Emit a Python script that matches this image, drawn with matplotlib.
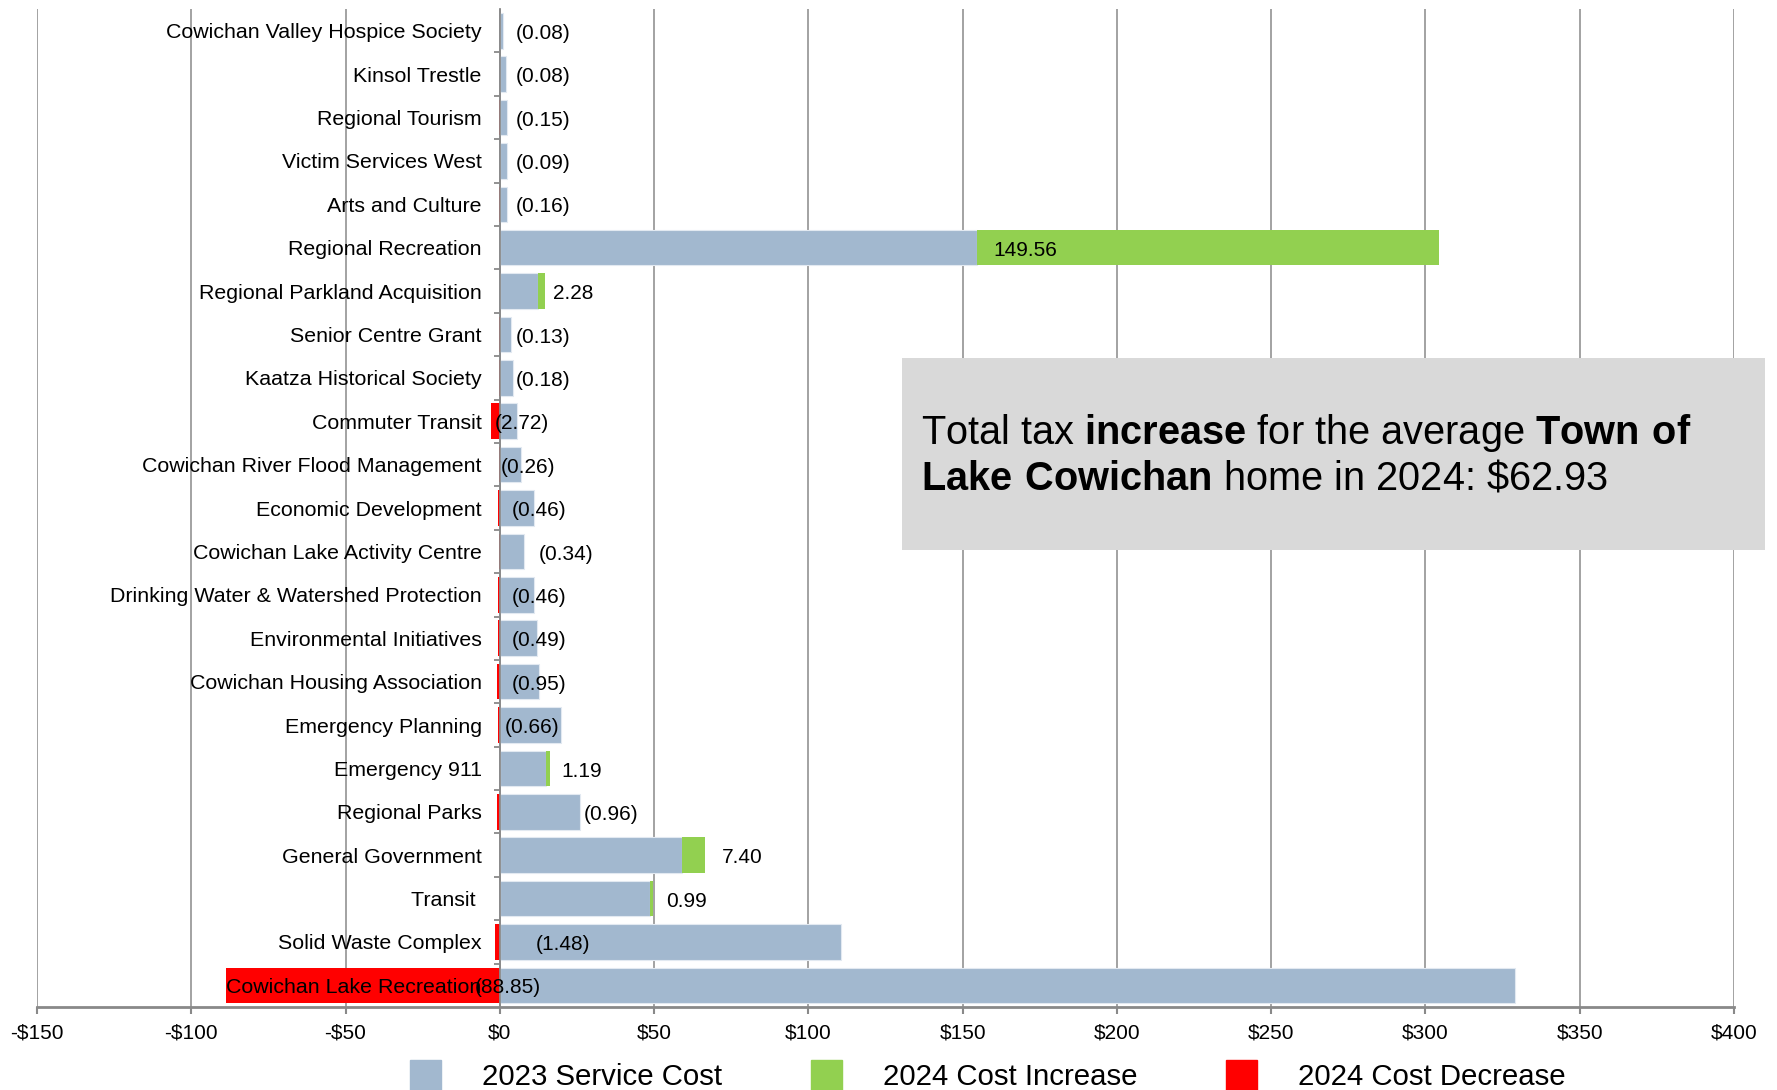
import matplotlib.pyplot as plt
from matplotlib.patches import Patch, Rectangle

plt.rcParams['font.family'] = ['Liberation Sans', 'DejaVu Sans']
plt.rcParams['mathtext.fontset'] = 'custom'
plt.rcParams['mathtext.rm'] = 'Liberation Sans'
plt.rcParams['mathtext.bf'] = 'Liberation Sans:bold'

# Services, top to bottom
services = [
    'Cowichan Valley Hospice Society', 'Kinsol Trestle', 'Regional Tourism',
    'Victim Services West', 'Arts and Culture', 'Regional Recreation',
    'Regional Parkland Acquisition', 'Senior Centre Grant',
    'Kaatza Historical Society', 'Commuter Transit',
    'Cowichan River Flood Management', 'Economic Development',
    'Cowichan Lake Activity Centre', 'Drinking Water & Watershed Protection',
    'Environmental Initiatives', 'Cowichan Housing Association',
    'Emergency Planning', 'Emergency 911', 'Regional Parks',
    'General Government', 'Transit ', 'Solid Waste Complex',
    'Cowichan Lake Recreation',
]
cost_2023 = [1.2, 1.9, 2.2, 2.2, 2.3, 154.8, 12.4, 3.5, 4.2, 5.5, 6.9, 11.1,
             8.0, 11.1, 11.9, 12.6, 20.0, 15.0, 25.9, 59.0, 48.8, 110.7, 329.0]
change_2024 = [-0.08, -0.08, -0.15, -0.09, -0.16, 149.56, 2.28, -0.13, -0.18,
               -2.72, -0.26, -0.46, -0.34, -0.46, -0.49, -0.95, -0.66, 1.19,
               -0.96, 7.40, 0.99, -1.48, -88.85]
# where each change label starts ($)
label_x = [5.1, 5.1, 5.1, 5.1, 5.1, 160, 17.4, 5.1, 5.1, -1.5, 0.4, 4, 12.7,
           4, 4, 4, 1.7, 19.8, 27.3, 72, 54, 11.6, -8]
x_ticks = [-150, -100, -50, 0, 50, 100, 150, 200, 250, 300, 350, 400]

blue = '#a2b8cf'
green = '#92d050'
red = '#ff0000'
grey = '#898989'

increase = [max(c, 0) for c in change_2024]
decrease = [min(c, 0) for c in change_2024]
labels = [f'{c:.2f}' if c > 0 else f'({-c:.2f})' for c in change_2024]
y = list(range(len(services)))

fig = plt.figure(figsize=(17.77, 10.90), dpi=100)
ax = fig.add_axes([0.0208, 0.0761, 0.955, 0.9156])

for xv in x_ticks:
    ax.axvline(xv, color=grey, lw=1.1, zorder=0)

ax.barh(y, cost_2023, height=0.82, color=blue, edgecolor='#e2e9f1',
        linewidth=0.8, zorder=1)
ax.barh(y, increase, left=cost_2023, height=0.82, color=green,
        edgecolor='none', zorder=1)
ax.barh(y, decrease, height=0.82, color=red, edgecolor='none', zorder=1)

for yi, xl, txt in zip(y, label_x, labels):
    ax.text(xl, yi + 0.06, txt, ha='left', va='center', fontsize=15, zorder=4)

ax.set_xlim(-150, 400)
ax.set_ylim(len(services) - 0.5, -0.5)
ax.set_xticks(x_ticks)
ax.set_xticklabels([f'-${-v}' if v < 0 else f'${v}' for v in x_ticks])
ax.set_yticks(y)
ax.set_yticklabels(services)
ax.set_yticks([v + 0.5 for v in y[:-1]], minor=True)

ax.spines['left'].set_position(('data', 0))
ax.spines['left'].set_color(grey)
ax.spines['left'].set_linewidth(1.3)
ax.spines['bottom'].set_color(grey)
ax.spines['bottom'].set_linewidth(2)
ax.spines['top'].set_visible(False)
ax.spines['right'].set_visible(False)

ax.tick_params(axis='y', which='major', length=0, pad=13, labelsize=15.4)
ax.tick_params(axis='y', which='minor', length=4, width=1.3, color=grey)
ax.tick_params(axis='x', length=5, width=1.5, color=grey, pad=7,
               labelsize=15)

# summary box
fig.add_artist(Rectangle((0.5076, 0.4954), 0.4857, 0.176,
                         transform=fig.transFigure, facecolor='#d9d9d9',
                         edgecolor='none', zorder=1))
fig.text(0.5183, 0.583,
         r'Total tax $\mathbf{increase}$ for the average $\mathbf{Town\ of}$'
         '\n'
         r'$\mathbf{Lake\ Cowichan}$ home in 2024: \$62.93',
         fontsize=28.6, ha='left', va='center', zorder=2)

handles = [Patch(color=blue, label='2023 Service Cost'),
           Patch(color=green, label='2024 Cost Increase'),
           Patch(color=red, label='2024 Cost Decrease')]
fig.legend(handles=handles, loc='center', bbox_to_anchor=(0.556, 0.0135),
           ncol=3, frameon=False, fontsize=21.2, handlelength=1.05,
           handleheight=1.25, handletextpad=1.4, columnspacing=3.0,
           borderpad=0)

fig.savefig('out.png', dpi=100)
